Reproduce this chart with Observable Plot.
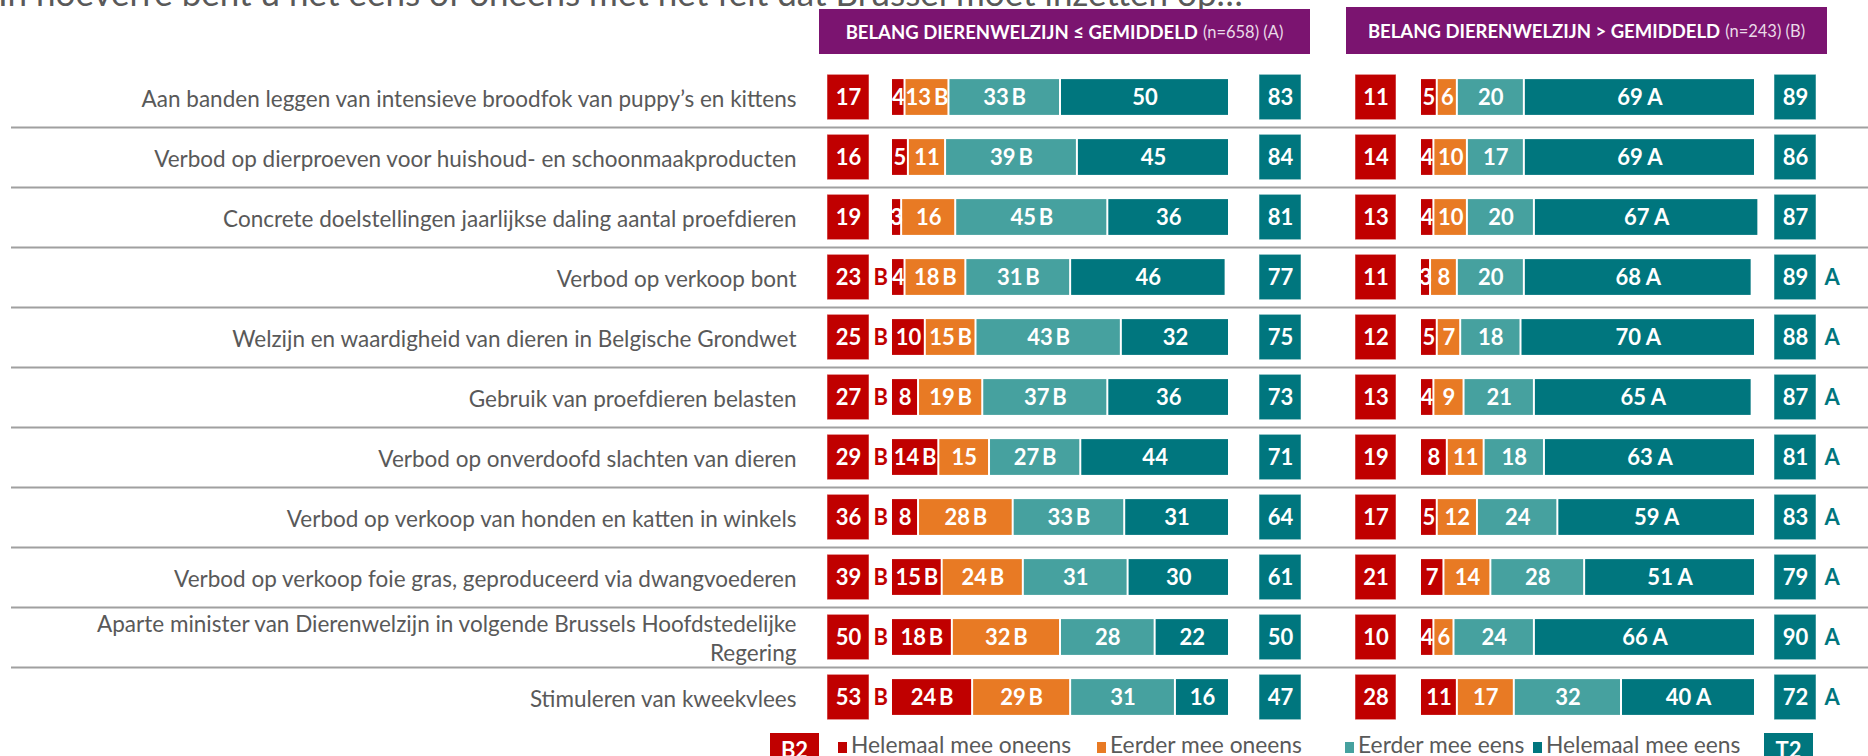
<!DOCTYPE html>
<html><head><meta charset="utf-8">
<script src="https://cdn.jsdelivr.net/npm/d3@7"></script>
<script src="https://cdn.jsdelivr.net/npm/@observablehq/plot@0.6"></script>
<style>
html,body{margin:0;padding:0;background:#fff;overflow:hidden;}
#root{position:relative;width:1868px;height:756px;overflow:hidden;font-family:Lato,"Open Sans",sans-serif;}
#root > *{position:absolute;}
.title{left:-2px;top:-25px;font-size:35px;line-height:35px;color:#595959;white-space:nowrap;}
.header{background:#7b1470;color:#fff;display:flex;align-items:center;justify-content:center;font-weight:700;font-size:18.5px;white-space:nowrap;}
.header .n{font-weight:400;font-size:16.5px;color:#eadbe8;margin-left:5px;}
.lgbox{color:#fff;font-weight:700;font-size:22px;text-align:center;line-height:26px;padding-top:4px;box-sizing:border-box;}
.lgsq{width:9px;height:11px;}
.lgtx{font-size:22.8px;color:#595959;line-height:23px;white-space:nowrap;}
</style></head><body><div id="root"></div><script>
// ---------- data ----------
const questions = [
  "Aan banden leggen van intensieve broodfok van puppy’s en kittens",
  "Verbod op dierproeven voor huishoud- en schoonmaakproducten",
  "Concrete doelstellingen jaarlijkse daling aantal proefdieren",
  "Verbod op verkoop bont",
  "Welzijn en waardigheid van dieren in Belgische Grondwet",
  "Gebruik van proefdieren belasten",
  "Verbod op onverdoofd slachten van dieren",
  "Verbod op verkoop van honden en katten in winkels",
  "Verbod op verkoop foie gras, geproduceerd via dwangvoederen",
  "Aparte minister van Dierenwelzijn in volgende Brussels Hoofdstedelijke\nRegering",
  "Stimuleren van kweekvlees"
];
const categories = ["Helemaal mee oneens", "Eerder mee oneens", "Eerder mee eens", "Helemaal mee eens"];
const colors = ["#c00000", "#e87a24", "#46a19f", "#00767e"];

const headerA = ["BELANG DIERENWELZIJN ≤ GEMIDDELD", "(n=658) (A)"];
const headerB = ["BELANG DIERENWELZIJN > GEMIDDELD", "(n=243) (B)"];
const titleText = "In hoeverre bent u het eens of oneens met het feit dat Brussel moet inzetten op…";

// Group A (belang ≤ gemiddeld)
const A_b2 = [17, 16, 19, 23, 25, 27, 29, 36, 39, 50, 53];
const A_b2sig = ["", "", "", "B", "B", "B", "B", "B", "B", "B", "B"];
const A_t2 = [83, 84, 81, 77, 75, 73, 71, 64, 61, 50, 47];
const A_helOneens = [4, 5, 3, 4, 10, 8, 14, 8, 15, 18, 24];
const A_eerOneens = [13, 11, 16, 18, 15, 19, 15, 28, 24, 32, 29];
const A_eerEens = [33, 39, 45, 31, 43, 37, 27, 33, 31, 28, 31];
const A_helEens = [50, 45, 36, 46, 32, 36, 44, 31, 30, 22, 16];
const A_sigHelOneens = ["", "", "", "", "", "", "B", "", "B", "B", "B"];
const A_sigEerOneens = ["B", "", "", "B", "B", "B", "", "B", "B", "B", "B"];
const A_sigEerEens = ["B", "B", "B", "B", "B", "B", "B", "B", "", "", ""];
const A_sigHelEens = ["", "", "", "", "", "", "", "", "", "", ""];

// Group B (belang > gemiddeld)
const B_b2 = [11, 14, 13, 11, 12, 13, 19, 17, 21, 10, 28];
const B_t2 = [89, 86, 87, 89, 88, 87, 81, 83, 79, 90, 72];
const B_t2sig = ["", "", "", "A", "A", "A", "A", "A", "A", "A", "A"];
const B_helOneens = [5, 4, 4, 3, 5, 4, 8, 5, 7, 4, 11];
const B_eerOneens = [6, 10, 10, 8, 7, 9, 11, 12, 14, 6, 17];
const B_eerEens = [20, 17, 20, 20, 18, 21, 18, 24, 28, 24, 32];
const B_helEens = [69, 69, 67, 68, 70, 65, 63, 59, 51, 66, 40];
const B_sigHelOneens = ["", "", "", "", "", "", "", "", "", "", ""];
const B_sigEerOneens = ["", "", "", "", "", "", "", "", "", "", ""];
const B_sigEerEens = ["", "", "", "", "", "", "", "", "", "", ""];
const B_sigHelEens = ["A", "A", "A", "A", "A", "A", "A", "A", "A", "A", "A"];

// ---------- layout ----------
const W = 1868, H = 756;
const yRange = [65.8, 727.6];
const bw = (yRange[1] - yRange[0]) / questions.length;
const FONT = "Lato, 'Open Sans', sans-serif";
const root = document.getElementById("root");

function place(el, left, top) { el.style.left = left + "px"; el.style.top = top + "px"; root.appendChild(el); return el; }
const yOpt = {type: "band", domain: questions, range: yRange, padding: 0, axis: null};
const baseStyle = {background: "transparent", overflow: "visible", fontFamily: FONT};

function segRows(vals, sigs, sep) {
  const out = [];
  questions.forEach((q, i) => {
    categories.forEach((c, k) => out.push({question: q, category: c, value: vals[k][i], sig: sigs[k][i], sep}));
  });
  return out;
}
function boxRows(vals, sigs) { return questions.map((q, i) => ({question: q, value: vals[i], sig: sigs[i]})); }

// title
const t = document.createElement("div"); t.className = "title"; t.textContent = titleText; root.appendChild(t);

// labels + separators
const labelRight = 796;
place(Plot.plot({
  width: W, height: H, marginTop: 0, marginBottom: 0, marginLeft: 11, marginRight: 0,
  style: baseStyle, y: yOpt,
  marks: [
    Plot.ruleY(questions.slice(0, -1), {y: d => d, dy: bw / 2, stroke: "#a0a0a0", strokeWidth: 2}),
    Plot.text(questions, {y: d => d, text: d => d, frameAnchor: "right", textAnchor: "end", dx: labelRight - W,
      fontSize: 22.5, fill: "#595959", lineHeight: 1.29})
  ]
}), 0, 0);

function barsPlot(rows, width) {
  return Plot.plot({
    width, height: H, margin: 0, style: baseStyle, y: yOpt,
    x: {domain: [0, 100], range: [0, width], axis: null},
    color: {domain: categories, range: colors},
    marks: [
      Plot.barX(rows, Plot.stackX({x: "value", y: "question", fill: "category", insetTop: 12.1, insetBottom: 12.1, insetLeft: 1, insetRight: 1})),
      Plot.text(rows, Plot.stackX({x: "value", y: "question", text: d => d.sig ? d.value + d.sep + d.sig : String(d.value),
        fill: "white", fontWeight: "bold", fontSize: 22}))
    ]
  });
}
function boxPlot(rows, boxW, fill, sigColor, sigDx) {
  const extra = 30;
  return Plot.plot({
    width: boxW + extra, height: H, margin: 0, style: baseStyle, y: yOpt,
    x: {type: "band", domain: ["v"], range: [0, boxW], padding: 0, axis: null},
    marks: [
      Plot.cell(rows, {x: () => "v", y: "question", fill, insetTop: 7.3, insetBottom: 7.3, stroke: "#ffffff", strokeOpacity: 0.5}),
      Plot.text(rows, {x: () => "v", y: "question", text: "value", fill: "white", fontWeight: "bold", fontSize: 22}),
      Plot.text(rows, {x: () => "v", y: "question", text: "sig", dx: boxW / 2 + sigDx, textAnchor: "start", fill: sigColor, fontWeight: "bold", fontSize: 22})
    ]
  });
}

// Panels
const rowsA = segRows([A_helOneens, A_eerOneens, A_eerEens, A_helEens], [A_sigHelOneens, A_sigEerOneens, A_sigEerEens, A_sigHelEens], "\u2009");
const rowsB = segRows([B_helOneens, B_eerOneens, B_eerEens, B_helEens], [B_sigHelOneens, B_sigEerOneens, B_sigEerEens, B_sigHelEens], " ");

place(boxPlot(boxRows(A_b2, A_b2sig), 42, colors[0], colors[0], 4), 827, 0);
place(barsPlot(rowsA, 338), 891, 0);
place(boxPlot(boxRows(A_t2, A_t2.map(() => "")), 42, colors[3], colors[3], 6), 1259, 0);

place(boxPlot(boxRows(B_b2, B_b2.map(() => "")), 41, colors[0], colors[0], 4), 1355, 0);
place(barsPlot(rowsB, 335), 1420, 0);
place(boxPlot(boxRows(B_t2, B_t2sig), 42, colors[3], colors[3], 8), 1774, 0);

// headers
function header(txt, left, top, w, h) {
  const d = document.createElement("div"); d.className = "header";
  d.style.width = w + "px"; d.style.height = h + "px";
  d.innerHTML = `<span>${txt[0]}</span><span class="n">${txt[1]}</span>`;
  return place(d, left, top);
}
header(headerA, 819, 9, 491, 45);
header(headerB, 1346, 7, 481, 47);

// legend
const lgB2 = document.createElement("div"); lgB2.className = "lgbox"; lgB2.textContent = "B2";
lgB2.style.background = colors[0]; lgB2.style.width = "49px"; lgB2.style.height = "34px"; place(lgB2, 770, 733);
const lgT2 = document.createElement("div"); lgT2.className = "lgbox"; lgT2.textContent = "T2";
lgT2.style.background = colors[3]; lgT2.style.width = "49px"; lgT2.style.height = "34px"; place(lgT2, 1764, 733);
const legendLeft = [838, 1097, 1345, 1533];
categories.forEach((c, k) => {
  const sq = document.createElement("div"); sq.className = "lgsq"; sq.style.background = colors[k];
  place(sq, legendLeft[k], 742);
  const tx = document.createElement("div"); tx.className = "lgtx"; tx.textContent = c;
  place(tx, legendLeft[k] + 13, 733);
});
</script></body></html>
